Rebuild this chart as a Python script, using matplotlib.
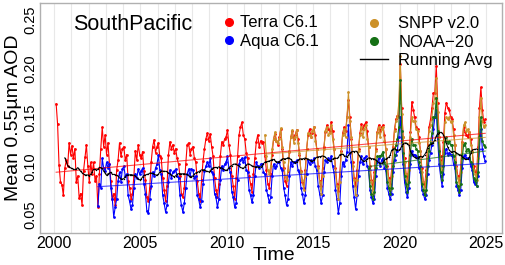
import numpy as np
import pandas as pd
import matplotlib
matplotlib.use("Agg")
import matplotlib.pyplot as plt
from matplotlib.lines import Line2D

plt.rcParams['font.family'] = ['Liberation Sans', 'DejaVu Sans']

# ---------------- data (monthly mean AOD) ----------------
terra_start = (2000, 2)
terra = [
    .164, .143, .101, .084, .081, .070, .098, .106, .100, .124, .112,
    .121, .108, .118, .084, .090, .067, .072, .060, .095, .109, .122, .100,
    .084, .104, .092, .104, .085, .090, .058, .092, .118, .140, .120, .132,
    .112, .124, .102, .085, .066, .072, .060, .096, .106, .124, .110, .118,
    .120, .106, .112, .085, .078, .066, .072, .090, .116, .106, .122, .112,
    .108, .115, .095, .086, .068, .064, .078, .104, .120, .127, .114, .120,
    .124, .110, .108, .088, .076, .064, .080, .112, .125, .118, .122, .114,
    .118, .108, .102, .090, .072, .068, .078, .102, .122, .124, .112, .118,
    .120, .108, .104, .085, .072, .064, .086, .105, .118, .128, .134, .126,
    .133, .120, .110, .088, .076, .068, .082, .110, .125, .122, .128, .130,
    .137, .122, .112, .090, .080, .066, .088, .110, .132, .140, .145, .132,
    .128, .114, .108, .090, .082, .074, .092, .108, .125, .132, .120, .126,
    .124, .125, .110, .096, .082, .078, .092, .112, .128, .133, .126, .122,
    .130, .138, .118, .098, .085, .080, .095, .115, .130, .136, .128, .132,
    .137, .128, .112, .095, .084, .078, .096, .118, .132, .138, .130, .134,
    .140, .132, .118, .100, .085, .080, .098, .120, .135, .142, .138, .136,
    .145, .136, .118, .098, .082, .075, .092, .116, .134, .140, .136, .150,
    .168, .150, .128, .104, .088, .080, .096, .118, .134, .143, .138, .142,
    .145, .136, .120, .100, .086, .078, .094, .118, .135, .142, .136, .140,
    .142, .132, .118, .100, .088, .082, .096, .120, .138, .148, .152, .150,
    .205, .160, .130, .108, .092, .086, .104, .135, .166, .158, .150, .140,
    .138, .130, .116, .098, .084, .080, .096, .122, .140, .148, .160, .175,
    .175, .203, .165, .130, .110, .100, .125, .155, .165, .160, .158, .150,
    .148, .138, .122, .100, .090, .086, .100, .125, .140, .135, .132, .130,
    .135, .128, .115, .100, .095, .092, .120, .160, .181, .158, .145, .148,
]

aqua_start = (2002, 7)
aqua = [
    .059, .082, .078, .108, .098, .095,
    .104, .098, .102, .078, .066, .048, .058, .066, .085, .094, .084, .097,
    .100, .090, .092, .070, .064, .056, .060, .078, .092, .088, .097, .092,
    .095, .098, .082, .072, .054, .052, .066, .080, .094, .090, .098, .102,
    .111, .096, .092, .070, .062, .053, .060, .084, .096, .088, .094, .095,
    .097, .090, .088, .070, .060, .053, .062, .078, .092, .097, .090, .097,
    .096, .088, .090, .070, .066, .058, .064, .082, .095, .100, .104, .100,
    .108, .094, .092, .072, .068, .058, .066, .086, .100, .096, .102, .104,
    .110, .098, .094, .074, .068, .058, .062, .086, .102, .106, .108, .104,
    .109, .096, .094, .076, .070, .063, .070, .090, .104, .100, .098, .102,
    .102, .094, .092, .076, .070, .063, .068, .090, .102, .098, .100, .104,
    .104, .098, .096, .078, .070, .060, .066, .090, .104, .100, .104, .104,
    .106, .096, .094, .078, .072, .062, .070, .092, .106, .102, .106, .104,
    .108, .100, .096, .080, .072, .062, .070, .094, .106, .104, .108, .106,
    .110, .100, .094, .076, .066, .052, .062, .090, .104, .100, .106, .115,
    .142, .114, .104, .080, .068, .056, .070, .090, .104, .110, .102, .108,
    .110, .100, .096, .076, .068, .062, .066, .090, .104, .108, .100, .106,
    .108, .098, .096, .078, .072, .066, .072, .094, .106, .112, .116, .130,
    .150, .125, .102, .084, .074, .068, .078, .102, .116, .112, .112, .110,
    .108, .098, .094, .076, .072, .066, .070, .092, .106, .114, .122, .138,
    .150, .158, .128, .102, .090, .080, .092, .114, .118, .112, .114, .112,
    .112, .102, .098, .080, .076, .070, .076, .098, .110, .112, .108, .108,
    .108, .100, .096, .084, .082, .080, .090, .118, .138, .118, .110, .105,
]

snpp_start = (2012, 3)
snpp = [
    .132, .110, .096, .092, .100, .118, .128, .135, .126, .124,
    .128, .139, .120, .104, .090, .086, .096, .116, .130, .137, .124, .130,
    .137, .124, .114, .094, .086, .076, .090, .118, .134, .132, .130, .136,
    .140, .126, .118, .098, .084, .072, .090, .118, .136, .140, .132, .134,
    .142, .128, .118, .094, .080, .066, .084, .114, .132, .138, .130, .150,
    .176, .146, .130, .100, .086, .070, .086, .116, .132, .140, .130, .138,
    .142, .128, .120, .096, .084, .072, .086, .116, .134, .140, .130, .138,
    .140, .126, .118, .096, .086, .076, .090, .118, .136, .146, .150, .165,
    .213, .154, .130, .104, .092, .080, .096, .130, .150, .146, .146, .138,
    .136, .124, .116, .094, .084, .074, .088, .118, .136, .142, .150, .165,
    .170, .190, .156, .130, .104, .096, .114, .145, .150, .148, .150, .145,
    .146, .132, .122, .096, .088, .080, .094, .124, .142, .145, .136, .138,
    .135, .122, .116, .096, .092, .086, .108, .150, .170, .146, .140, .142,
]

noaa20_start = (2018, 3)
noaa20 = [
    .098, .080, .072, .066, .074, .098, .110, .110, .110, .112,
    .115, .104, .100, .084, .078, .072, .078, .100, .112, .122, .128, .140,
    .188, .136, .114, .090, .082, .074, .084, .112, .128, .122, .122, .118,
    .116, .104, .100, .082, .076, .070, .076, .100, .116, .124, .134, .150,
    .150, .170, .136, .116, .094, .086, .100, .126, .130, .124, .126, .122,
    .122, .110, .104, .084, .080, .074, .082, .108, .122, .124, .116, .118,
    .116, .104, .102, .088, .086, .080, .094, .130, .150, .126, .122, .120,
]

series_names = ["Terra C6.1", "Aqua C6.1", "SNPP v2.0", "NOAA\u221220"]
series_colors = ["#FF0000", "#0000FF", "#CC9129", "#157015"]
region_label = "SouthPacific"
x_ticks = [2000, 2005, 2010, 2015, 2020, 2025]
y_ticks = [0.05, 0.10, 0.15, 0.20, 0.25]


def month_keys(start, n):
    y, m = start
    return y * 12 + (m - 1) + np.arange(n)


all_series = [(terra_start, terra), (aqua_start, aqua),
              (snpp_start, snpp), (noaa20_start, noaa20)]

fig = plt.figure(figsize=(5.05, 2.65), dpi=100)
ax = fig.add_axes([40 / 505, 1 - 233 / 265, 462 / 505, 230 / 265])

# yearly vertical grid lines
for yr in range(1999, 2027):
    ax.axvline(yr, color="#E8E8E8", lw=0.8, zorder=0)

frames = {}
for (start, vals), name in zip(all_series, series_names):
    frames[name] = pd.Series(vals, index=month_keys(start, len(vals)))
df = pd.DataFrame(frames).sort_index()

for (start, vals), name, col in zip(all_series, series_names, series_colors):
    t = (month_keys(start, len(vals)) + 0.5) / 12.0
    ax.plot(t, vals, color=col, lw=0.8, marker="o", ms=2.0, mew=0, zorder=2)

# trend lines
for (start, vals), name, col in zip(all_series, series_names, series_colors):
    t = (month_keys(start, len(vals)) + 0.5) / 12.0
    p = np.polyfit(t, np.array(vals), 1)
    tt = np.array([t[0], t[-1]])
    ax.plot(tt, np.polyval(p, tt), color=col, lw=0.8, alpha=0.7, zorder=3)

# running average of all available sensors
mean_all = df.mean(axis=1)
run = mean_all.rolling(13, center=True, min_periods=13).mean()
run_t = (run.index.values + 0.5) / 12.0
ax.plot(run_t, run.values, color="black", lw=0.7, marker="o", ms=1.0, mew=0, zorder=4)

ax.set_xlim(1999.19, 2025.93)
ax.set_ylim(0.0315, 0.2674)
ax.set_xticks(x_ticks)
ax.set_xticklabels([str(x) for x in x_ticks], fontsize=11.5)
ax.set_yticks(y_ticks)
ax.set_yticklabels([f"{y:.2f}" for y in y_ticks], fontsize=10.5, rotation=90, va="center")
ax.tick_params(axis="both", length=0, pad=2, colors="black")
for s in ax.spines.values():
    s.set_color("#B0B0B0")
    s.set_linewidth(1.0)

ax.set_xlabel("Time", fontsize=14)
ax.xaxis.set_label_coords(0.506, -0.06)
ax.set_ylabel("Mean 0.55\u00b5m AOD", fontsize=14, labelpad=1)

ax.text(0.071, 0.905, region_label, transform=ax.transAxes, fontsize=15.5,
        ha="left", va="center")

h1 = [Line2D([], [], color=c, marker="o", ls="none", ms=5.5) for c in series_colors[:2]]
leg1 = ax.legend(h1, series_names[:2], loc="upper left", bbox_to_anchor=(0.398, 0.946),
                 frameon=False, fontsize=12, handlelength=0.6, handletextpad=0.35,
                 labelspacing=0.22, borderaxespad=0, borderpad=0)
ax.add_artist(leg1)
h2 = [Line2D([], [], color=c, marker="o", ls="none", ms=5.5) for c in series_colors[2:]]
h2.append(Line2D([], [], color="black", lw=1.0))
leg2 = ax.legend(h2, series_names[2:] + ["Running Avg"], loc="upper left",
                 bbox_to_anchor=(0.693, 0.942), frameon=False, fontsize=12,
                 handlelength=1.68, handletextpad=0.6, labelspacing=0.2,
                 borderaxespad=0, borderpad=0)

fig.savefig("out.png", dpi=100)
